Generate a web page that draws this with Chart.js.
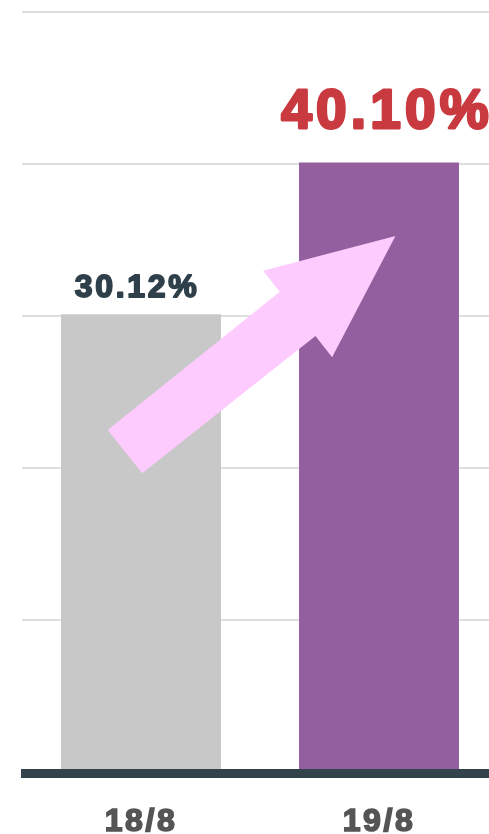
<!DOCTYPE html>
<html>
<head>
<meta charset="utf-8">
<script src="https://cdn.jsdelivr.net/npm/chart.js@4.4.1/dist/chart.umd.min.js"></script>
<style>
html,body{margin:0;padding:0;background:#fff;overflow:hidden;}
#wrap{width:489px;height:834px;overflow:hidden;position:relative;}
canvas{display:block;}
</style>
</head>
<body>
<div id="wrap"><canvas id="c" width="498" height="834"></canvas></div>
<script>
// ---- data ----
const categories = ['18/8', '19/8'];
const values = [30.12, 40.10];
const valueLabels = ['30.12%', '40.10%'];
const barColors = ['#c8c8c8', '#945f9e'];
const labelColors = ['#2f404b', '#c93a40'];
const yTicks = [0, 10, 20, 30, 40, 50];
// arrow annotation in data space [category index, value]
const arrowX = [-0.14, 0.005, 0.733, 0.803, 1.069, 0.513, 0.583];
const arrowY = [22.5, 19.65, 28.68, 27.28, 35.26, 32.98, 31.6];

const FONT = '"Liberation Sans", Arial, sans-serif';

const overlay = {
  id: 'overlay',
  beforeDraw(chart) {
    chart.ctx.letterSpacing = '2.6px';
  },
  afterDatasetsDraw(chart) {
    const ctx = chart.ctx;
    const xs = chart.scales.x, ys = chart.scales.y;
    const area = chart.chartArea;
    const meta = chart.getDatasetMeta(0);
    // axis line
    ctx.save();
    ctx.fillStyle = '#33434c';
    ctx.fillRect(area.left - 1, area.bottom - 3, area.right - area.left + 1, 9);
    ctx.restore();
    // value labels
    const sizes = [32, 55];
    const strokes = [1.8, 2.8];
    const spacing = [2.7, 4.2];
    const gaps = [17, 34];
    const dx = [-4, 8];
    meta.data.forEach((bar, i) => {
      ctx.save();
      ctx.font = 'bold ' + sizes[i] + 'px ' + FONT;
      ctx.letterSpacing = spacing[i] + 'px';
      ctx.fillStyle = labelColors[i];
      ctx.strokeStyle = labelColors[i];
      ctx.lineWidth = strokes[i];
      ctx.lineJoin = 'round';
      ctx.textAlign = 'center';
      ctx.textBaseline = 'alphabetic';
      ctx.fillText(valueLabels[i], bar.x + dx[i], bar.y - gaps[i]);
      ctx.strokeText(valueLabels[i], bar.x + dx[i], bar.y - gaps[i]);
      ctx.restore();
    });
    // arrow
    ctx.save();
    ctx.fillStyle = '#fdcbfd';
    ctx.beginPath();
    arrowX.forEach((v, i) => {
      const px = xs.getPixelForValue(v);
      const py = ys.getPixelForValue(arrowY[i]);
      if (i === 0) ctx.moveTo(px, py); else ctx.lineTo(px, py);
    });
    ctx.closePath();
    ctx.fill();
    ctx.restore();
  }
};

new Chart(document.getElementById('c'), {
  type: 'bar',
  data: {
    labels: categories,
    datasets: [{
      data: values,
      backgroundColor: barColors,
      borderWidth: 0,
      categoryPercentage: 1,
      barPercentage: 0.672
    }]
  },
  options: {
    responsive: false,
    animation: false,
    events: [],
    layout: { padding: { left: 22, top: 12, right: 0, bottom: 0 } },
    plugins: { legend: { display: false }, tooltip: { enabled: false } },
    scales: {
      x: {
        grid: { display: false, drawTicks: false },
        border: { display: false },
        ticks: {
          color: '#555555',
          padding: 31,
          textStrokeColor: '#555555',
          textStrokeWidth: 1.6,
          font: { family: FONT, size: 32, weight: 'bold' }
        },
        afterFit(s) { s.height = 62; }
      },
      y: {
        min: 0, max: 50,
        afterBuildTicks(s) { s.ticks = yTicks.map(v => ({ value: v })); },
        ticks: { display: false },
        grid: {
          drawTicks: false,
          lineWidth: 2,
          color: c => (c.tick && c.tick.value === 0) ? 'rgba(0,0,0,0)' : '#dedede'
        },
        border: { display: false },
        afterFit(s) { s.width = 0; }
      }
    }
  },
  plugins: [overlay]
});
</script>
</body>
</html>
